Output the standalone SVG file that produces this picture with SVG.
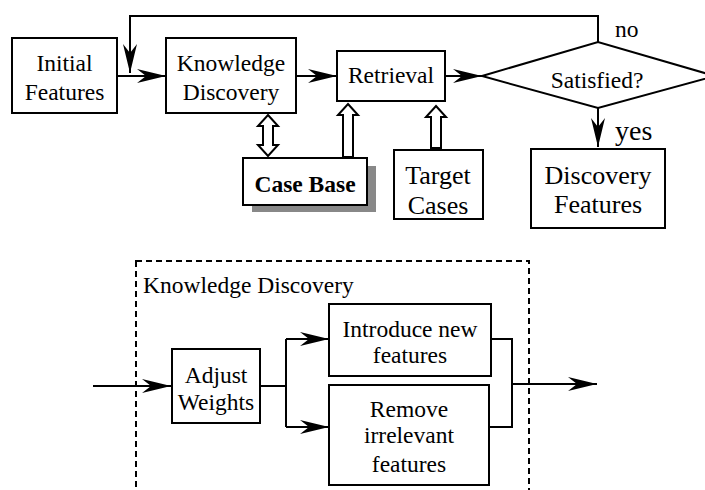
<svg xmlns="http://www.w3.org/2000/svg" width="705" height="490" viewBox="0 0 705 490" font-family="'Liberation Serif', 'DejaVu Serif', serif">
<style>
.box{fill:#fff;stroke:#000;stroke-width:2}
.ln{fill:none;stroke:#000;stroke-width:2}
.hol{fill:#fff;stroke:#000;stroke-width:2;stroke-linejoin:miter}
text{font-family:'Liberation Serif','DejaVu Serif',serif;fill:#000;font-size:23.5px}
.c{text-anchor:middle}
.big{font-size:26px}
.b{font-weight:bold}
</style>
<defs>
<marker id="ah" markerUnits="userSpaceOnUse" viewBox="-30 -8 31 16" markerWidth="31" markerHeight="16" refX="0" refY="0" orient="auto">
<path d="M0,0 L-29,-7 L-20,0 L-29,7 Z" fill="#000"/>
</marker>
</defs>
<rect x="0" y="0" width="705" height="490" fill="#fff"/>
<g id="connectors">
<path class="ln" d="M117,76 H166" marker-end="url(#ah)"/>
<path class="ln" d="M598,42 V16 H130 V73" marker-end="url(#ah)"/>
<path class="ln" d="M296,76 H337" marker-end="url(#ah)"/>
<path class="ln" d="M445,76 H482" marker-end="url(#ah)"/>
<path class="ln" d="M598,108 V147" marker-end="url(#ah)"/>
<polygon class="hol" points="268,115 278,126 273,126 273,145 278,145 268,156 258,145 263,145 263,126 258,126"/>
<polygon class="hol" points="348,104 358,115 353,115 353,157 343,157 343,115 338,115"/>
<polygon class="hol" points="436,106 446,117 441,117 441,148 431,148 431,117 426,117"/>
<path class="ln" d="M93,386 H171" marker-end="url(#ah)"/>
<path class="ln" d="M260,386 H286 M286,339 V427"/>
<path class="ln" d="M286,339 H329" marker-end="url(#ah)"/>
<path class="ln" d="M286,427 H329" marker-end="url(#ah)"/>
<path class="ln" d="M491,339 H512 V427 H489"/>
<path class="ln" d="M512,384 H597" marker-end="url(#ah)"/>
</g>
<g id="n-initial">
<rect class="box" x="12" y="38" width="105" height="75"/>
<text class="c" x="64.5" y="71">Initial</text>
<text class="c" x="64.5" y="100">Features</text>
</g>
<g id="n-kd">
<rect class="box" x="166" y="38" width="130" height="75"/>
<text class="c" x="231" y="71">Knowledge</text>
<text class="c" x="231" y="100">Discovery</text>
</g>
<g id="n-retrieval">
<rect class="box" x="337" y="51" width="108" height="50"/>
<text class="c" x="391" y="83">Retrieval</text>
</g>
<g id="n-satisfied">
<polygon class="box" points="482,76 598,42 715,76 598,108"/>
<text class="c" x="597" y="88">Satisfied?</text>
<text x="615" y="37">no</text>
<text x="615" y="140" style="font-size:28px">yes</text>
</g>
<g id="n-casebase">
<rect x="252" y="166" width="124" height="46" fill="#888"/>
<rect class="box" x="243" y="158" width="124" height="47"/>
<text class="c b" x="305" y="192">Case Base</text>
</g>
<g id="n-target">
<rect class="box" x="394" y="150" width="89" height="69"/>
<text class="c big" x="438" y="184">Target</text>
<text class="c big" x="438" y="214">Cases</text>
</g>
<g id="n-discfeat">
<rect class="box" x="531" y="149" width="134" height="79"/>
<text class="c big" x="598" y="184">Discovery</text>
<text class="c big" x="598" y="213">Features</text>
</g>
<g id="n-kdgroup">
<rect x="136" y="261" width="393" height="240" fill="none" stroke="#000" stroke-width="2" stroke-dasharray="6,4"/>
<text x="143" y="293">Knowledge Discovery</text>
</g>
<g id="n-adjust">
<rect class="box" x="172" y="349" width="88" height="74"/>
<text class="c" x="216" y="383">Adjust</text>
<text class="c" x="216" y="410">Weights</text>
</g>
<g id="n-introduce">
<rect class="box" x="329" y="304" width="162" height="72"/>
<text class="c" x="410" y="337">Introduce new</text>
<text class="c" x="410" y="363">features</text>
</g>
<g id="n-remove">
<rect class="box" x="329" y="385" width="160" height="100"/>
<text class="c" x="409" y="417">Remove</text>
<text class="c" x="409" y="443">irrelevant</text>
<text class="c" x="409" y="472">features</text>
</g>
</svg>
